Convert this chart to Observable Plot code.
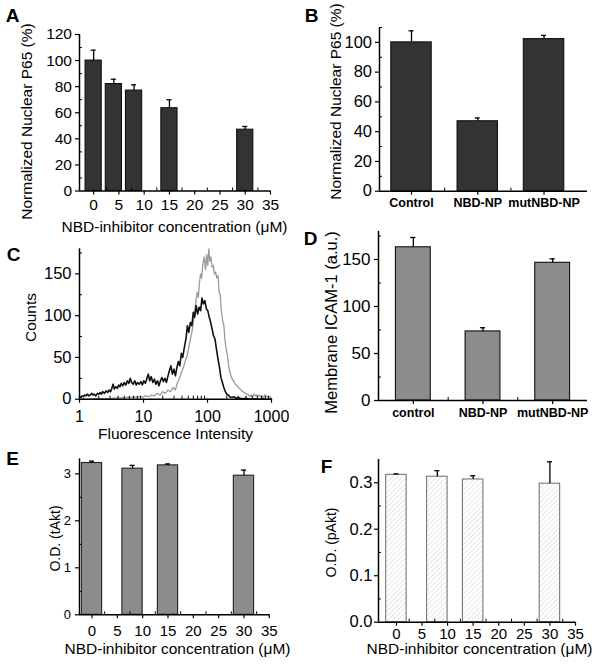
<!DOCTYPE html>
<html><head><meta charset="utf-8">
<script src="https://cdn.jsdelivr.net/npm/d3@7"></script>
<script src="https://cdn.jsdelivr.net/npm/@observablehq/plot@0.6"></script>
<style>
body{margin:0;background:#fff;}
#fig{position:relative;width:604px;height:672px;overflow:hidden;background:#fff;}
#fig svg{position:absolute;overflow:visible;}
</style></head><body><div id="fig"></div>
<script>
// ---------- data ----------
const concTicks = [0, 5, 10, 15, 20, 25, 30, 35];
const concMinor = [2.5, 7.5, 12.5, 17.5, 22.5, 27.5, 32.5];

const concA = [0, 4, 8, 15, 30];
const p65A = [100, 82, 77, 63.5, 47];
const p65AErr = [8, 3.7, 4.4, 6.5, 2.5];

const groupsB = ["Control", "NBD-NP", "mutNBD-NP"];
const p65B = [100, 47, 102.2];
const p65BErr = [7.8, 2.2, 2.5];

const intensityTicks = [1, 10, 100, 1000];
// flow cytometry histograms: [fluorescence intensity, counts]
const histBlack = [[1,3],[1.05,2],[1.1,4],[1.15,3],[1.2,5],[1.27,4],[1.33,6],[1.4,4],[1.47,5],[1.55,7],[1.63,5],[1.7,6],[1.8,4],[1.9,7],[2,6],[2.1,8],[2.2,6],[2.3,9],[2.45,7],[2.6,10],[2.75,8],[2.9,11],[3.05,9],[3.2,13],[3.35,18],[3.5,12],[3.7,15],[3.9,13],[4.1,17],[4.3,15],[4.5,19],[4.75,16],[5,20],[5.3,17],[5.6,22],[5.9,19],[6.2,25],[6.5,20],[6.9,18],[7.3,22],[7.7,17],[8.1,20],[8.6,18],[9.1,21],[9.6,17],[10.1,22],[10.7,19],[11.3,25],[11.9,30],[12.5,22],[13.2,27],[14,20],[14.8,24],[15.6,18],[16.5,22],[17.4,16],[18.4,22],[19.4,26],[20.5,21],[21.6,25],[22.8,20],[24,27],[25.4,34],[26.8,40],[28.3,30],[29.9,36],[31.5,28],[33.3,38],[35,45],[37,40],[39,55],[41,50],[43.5,62],[46,72],[48.5,88],[51,80],[54,92],[57,88],[60,104],[63,98],[66.5,112],[70,102],[74,110],[78,106],[82,121],[86.5,114],[91,118],[96,108],[101,106],[106.5,98],[112,92],[118,84],[124,76],[131,72],[138,60],[146,48],[154,38],[162,26],[171,20],[180,14],[190,9],[200,6],[211,5],[222,3],[240,2],[260,3],[280,1],[300,2],[330,1],[360,0.5],[400,1],[450,0],[500,0.5],[600,0],[700,0.5],[800,0],[1000,0]];
const histGray = [[1,0],[1.2,0.5],[1.5,0],[1.8,1],[2.2,0.5],[2.6,1],[3,0.5],[3.5,1.5],[4,1],[4.5,2],[5,1],[5.6,2.5],[6.3,1.5],[7,3],[7.8,2],[8.7,3.5],[9.7,2.5],[10.8,4],[12,3],[13.3,5],[14.8,4],[16.4,7],[18.2,5],[20,9],[22,7],[24,11],[26.5,9],[29,14],[31.5,11],[34,20],[36.5,25],[39,32],[42,38],[45,46],[48,52],[51,62],[54,72],[57,80],[60,92],[63,105],[66,118],[69,128],[72,122],[75,140],[78,150],[81,145],[85,163],[89,170],[93,155],[97,173],[101,160],[105,180],[109,165],[113,170],[118,158],[123,160],[128,150],[134,152],[140,145],[146,148],[152,128],[158,125],[165,105],[172,95],[180,88],[188,70],[196,60],[205,52],[214,40],[224,32],[234,27],[245,24],[258,21],[272,18],[291,16],[306,14],[326,12],[345,10],[370,8],[395,7],[417,6],[440,5],[460,3],[480,5],[505,3],[530,6],[555,4],[580,5],[610,3],[640,5],[670,3],[700,4],[740,2],[780,5],[820,3],[860,4],[900,2],[950,3],[1000,1]];

const groupsD = ["control", "NBD-NP", "mutNBD-NP"];
const icamD = [163, 73.5, 146.5];
const icamDErr = [10.4, 3.9, 4.2];

const concE = [0, 8, 15, 30];
const tAkt = [3.23, 3.11, 3.18, 2.96];
const tAktErr = [0.04, 0.07, 0.03, 0.12];

const concF = [0, 8, 15, 30];
const pAkt = [0.317, 0.313, 0.307, 0.298];
const pAktErr = [0.002, 0.013, 0.008, 0.047];

// ---------- layout helpers ----------
const FONT = '"Liberation Sans", Arial, Helvetica, sans-serif';
const fig = document.getElementById("fig");
function place(svg, P) {
  svg.style.left = P.left + "px";
  svg.style.top = P.top + "px";
  fig.appendChild(svg);
}
function label(text, px, py, P, opts = {}) {
  return Plot.text([text], {
    frameAnchor: "top-left", text: d => d,
    dx: px - (P.left + P.mL), dy: py - (P.top + P.mT),
    textAnchor: "middle", lineAnchor: "middle", fill: "#000",
    fontSize: 15.5, ...opts
  });
}
function letter(t, px, py, P) {
  return label(t, px, py, P, {fontSize: 19, fontWeight: "bold"});
}
function axes(P) {
  const m = [
    Plot.axisX(P.xTicks, {anchor: "bottom", tickSize: 4, tickPadding: P.xPad, tickFormat: P.xFmt || (d => String(d)),
      label: null, strokeWidth: 1.2, fontSize: P.xFont || 15, fontWeight: P.xWeight || "normal", fill: "#000"}),
    Plot.axisY(P.yTicks, {anchor: "left", tickSize: 4, tickPadding: P.yPad, tickFormat: P.yFmt || (d => String(d)),
      label: null, strokeWidth: 1.2, fontSize: P.yFont || 15, fill: "#000"}),
    Plot.ruleX([P.xDomain[0]], {stroke: "#000", strokeWidth: 1.5}),
    Plot.ruleY([P.yDomain[0]], {stroke: "#000", strokeWidth: 1.5})
  ];
  if (P.xMinor) m.push(Plot.axisX(P.xMinor, {anchor: "bottom", tickSize: 3, dy: -3, tickFormat: () => "", label: null, strokeWidth: 1}));
  if (P.yMinor) m.push(Plot.axisY(P.yMinor, {anchor: "left", tickSize: 3, dx: 3, tickFormat: () => "", label: null, strokeWidth: 1}));
  return m;
}
function frameOpts(P) {
  return {
    width: P.width, height: P.height,
    marginLeft: P.mL, marginRight: P.mR, marginTop: P.mT, marginBottom: P.mB,
    x: {type: P.xType || "linear", domain: P.xDomain, axis: null},
    y: {domain: P.yDomain, axis: null},
    style: {fontFamily: FONT, fontSize: "15px", color: "#000", background: "transparent", overflow: "visible"}
  };
}
function barPanel(P, extra) {
  const rows = P.x.map((x, i) => ({x, v: P.v[i], e: P.e[i]}));
  const marks = [
    Plot.rect(rows, {x1: d => d.x - P.barW / 2, x2: d => d.x + P.barW / 2, y1: 0, y2: "v",
      fill: P.fill, stroke: P.stroke, strokeWidth: 1.1}),
    Plot.ruleX(rows, {x: "x", y1: "v", y2: d => d.v + d.e, stroke: "#000", strokeWidth: 1.3}),
    Plot.ruleY(rows, {y: d => d.v + d.e, x1: d => d.x - P.capW / 2, x2: d => d.x + P.capW / 2, stroke: "#000", strokeWidth: 1.3}),
    ...axes(P),
    ...extra
  ];
  return Plot.plot({...frameOpts(P), marks});
}

// ---------- Panel A ----------
const PA = {left: 0, top: 0, width: 300, height: 235, mL: 79, mR: 30, mT: 34, mB: 44.5,
  xDomain: [-2.8, 35], yDomain: [0, 120], x: concA, v: p65A, e: p65AErr, barW: 3.2, capW: 1,
  fill: "#333333", stroke: "#111", xTicks: concTicks, xMinor: concMinor, xPad: 4, xFont: 15.5, yFont: 15.5,
  yTicks: [0, 20, 40, 60, 80, 100, 120], yMinor: [10, 30, 50, 70, 90, 110], yPad: 3.5};
place(barPanel(PA, [
  label("Normalized Nuclear P65 (%)", 27, 121, PA, {rotate: -90}),
  label("NBD-inhibitor concentration (μM)", 174, 227, PA),
  letter("A", 12, 15, PA)
]), PA);

// ---------- Panel B ----------
const PB = {left: 300, top: 0, width: 304, height: 235, mL: 79, mR: 17, mT: 27, mB: 44.3,
  xDomain: [0.517, 3.656], yDomain: [0, 110], x: [1, 2, 3], v: p65B, e: p65BErr, barW: 0.61, capW: 0.075,
  fill: "#333333", stroke: "#111", xTicks: [1, 2, 3], xMinor: [1.5, 2.5], xPad: 3, xFont: 12.5, xWeight: "bold",
  xFmt: i => groupsB[i - 1], yFont: 16.5,
  yTicks: [0, 20, 40, 60, 80, 100], yMinor: [10, 30, 50, 70, 90, 110], yPad: 3.5};
place(barPanel(PB, [
  label("Normalized Nuclear P65 (%)", 336, 101, PB, {rotate: -90}),
  letter("B", 311, 15, PB)
]), PB);

// ---------- Panel C ----------
const PC = {left: 0, top: 220, width: 300, height: 225, mL: 79, mR: 29, mT: 28.3, mB: 46.3,
  xType: "log", xDomain: [1, 1000], yDomain: [0, 180], xFont: 16, yFont: 16.5,
  xTicks: intensityTicks, xMinor: [2,3,4,5,6,7,8,9,20,30,40,50,60,70,80,90,200,300,400,500,600,700,800,900], xPad: 7,
  yTicks: [0, 50, 100, 150], yMinor: [25, 75, 125, 175], yPad: 4};
const plotC = Plot.plot({...frameOpts(PC), marks: [
  Plot.line(histGray, {x: d => d[0], y: d => d[1], stroke: "#9a9a9a", strokeWidth: 1.3}),
  Plot.line(histBlack, {x: d => d[0], y: d => d[1], stroke: "#111", strokeWidth: 1.6}),
  ...axes(PC),
  label("Counts", 31, 317, PC, {rotate: -90}),
  label("Fluorescence Intensity", 175, 434, PC),
  letter("C", 13, 254, PC)
]});
place(plotC, PC);

// ---------- Panel D ----------
const PD = {left: 300, top: 220, width: 304, height: 225, mL: 78, mR: 17, mT: 10.8, mB: 45,
  xDomain: [0.5, 3.5], yDomain: [0, 180], x: [1, 2, 3], v: icamD, e: icamDErr, barW: 0.5, capW: 0.075,
  fill: "#8c8c8c", stroke: "#111", xTicks: [1, 2, 3], xMinor: [1.5, 2.5], xPad: 4, xFont: 12.5, xWeight: "bold",
  xFmt: i => groupsD[i - 1], yFont: 17,
  yTicks: [0, 50, 100, 150], yMinor: [25, 75, 125, 175], yPad: 4};
place(barPanel(PD, [
  label("Membrane ICAM-1 (a.u.)", 331, 322, PD, {rotate: -90, fontSize: 16.5}),
  letter("D", 310, 238, PD)
]), PD);

// ---------- Panel E ----------
const PE = {left: 0, top: 445, width: 300, height: 227, mL: 79, mR: 30.7, mT: 13.3, mB: 57.7,
  xDomain: [-2.47, 35.1], yDomain: [0, 3.32], x: concE, v: tAkt, e: tAktErr, barW: 4, capW: 1,
  fill: "#8c8c8c", stroke: "#222", xTicks: concTicks, xMinor: concMinor, xPad: 6.5, xFont: 15, yFont: 13,
  yTicks: [0, 1, 2, 3], yMinor: [0.5, 1.5, 2.5], yPad: 4.5};
place(barPanel(PE, [
  label("O.D. (tAkt)", 55, 538, PE, {rotate: -90, fontSize: 14}),
  label("NBD-inhibitor concentration (μM)", 177, 649, PE),
  letter("E", 12, 458, PE)
]), PE);

// ---------- Panel F ----------
const PF = {left: 300, top: 445, width: 304, height: 227, mL: 78, mR: 29, mT: 14, mB: 50.3,
  xDomain: [-3.5, 35], yDomain: [0, 0.35], x: concF, v: pAkt, e: pAktErr, barW: 4, capW: 1,
  fill: "url(#hatchF)", stroke: "#777", xTicks: concTicks, xMinor: concMinor, xPad: 2, xFont: 15, yFont: 16.5,
  yFmt: d3.format(".1f"),
  yTicks: [0, 0.1, 0.2, 0.3], yMinor: [0.05, 0.15, 0.25], yPad: 2};
const plotF = barPanel(PF, [
  label("O.D. (pAkt)", 331, 542, PF, {rotate: -90, fontSize: 14}),
  label("NBD-inhibitor concentration (μM)", 479, 649, PF),
  letter("F", 326, 466, PF)
]);
const ns = "http://www.w3.org/2000/svg";
const defs = document.createElementNS(ns, "defs");
defs.innerHTML = '<pattern id="hatchF" patternUnits="userSpaceOnUse" width="3.5" height="3.5" patternTransform="rotate(45)">' +
  '<rect width="3.5" height="3.5" fill="#ffffff"/><line x1="0" y1="0" x2="0" y2="3.5" stroke="#cfcfcf" stroke-width="1"/></pattern>';
plotF.insertBefore(defs, plotF.firstChild);
place(plotF, PF);
</script></body></html>
